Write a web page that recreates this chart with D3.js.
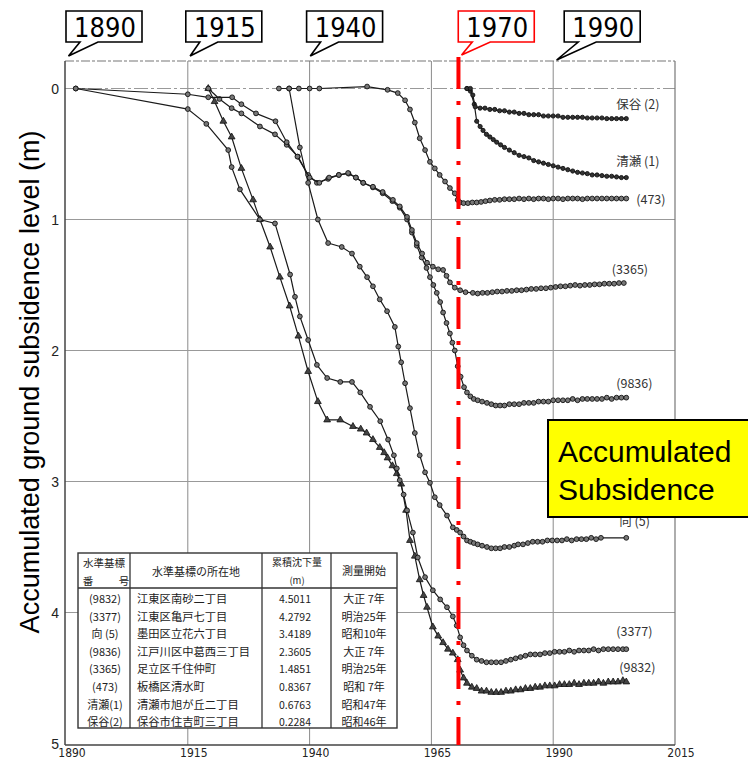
<!DOCTYPE html>
<html><head><meta charset="utf-8">
<script src="https://cdn.jsdelivr.net/npm/d3@7"></script>
<style>body{margin:0;background:#fff}svg{display:block}</style>
</head><body>
<svg id="chart" width="748" height="761"></svg>
<script>
// ---------- data ----------
const xTickYears = [1890, 1915, 1940, 1965, 1990, 2015];
const gridYears = [1915, 1940, 1965, 1990];
const yTickValues = [0, 1, 2, 3, 4, 5];
const gridDepths = [0, 1, 2, 3, 4];
const calloutLabels = ["1890", "1915", "1940", "1970", "1990"];
const calloutYears = [1890, 1915, 1940, 1970, 1990];
const markerYear = 1970;
const yTitle = "Accumulated ground subsidence level (m)";
const boxLines = ["Accumulated", "Subsidence"];

const seriesLabels = ["(9832)", "(3377)", "向 (5)", "(9836)", "(3365)", "(473)", "清瀬 (1)", "保谷 (2)"];

const tableHeader1 = ["水準基標", "水準基標の所在地", "累積沈下量", "測量開始"];
const tableCodes = ["(9832)", "(3377)", "向 (5)", "(9836)", "(3365)", "(473)", "清瀬(1)", "保谷(2)"];
const tableLocations = ["江東区南砂二丁目", "江東区亀戸七丁目", "墨田区立花六丁目", "江戸川区中葛西三丁目", "足立区千住仲町", "板橋区清水町", "清瀬市旭が丘二丁目", "保谷市住吉町三丁目"];
const tableValues = ["4.5011", "4.2792", "3.4189", "2.3605", "1.4851", "0.8367", "0.6763", "0.2284"];
const tableStart = ["大正 7年", "明治25年", "昭和10年", "大正 7年", "明治25年", "昭和 7年", "昭和47年", "昭和46年"];

const s9832 = [[1919.2,0],[1920.5,0.1],[1922.3,0.25],[1924,0.37],[1926,0.61],[1928.4,0.85],[1929.8,1.0],[1931.9,1.21],[1933.9,1.44],[1935.9,1.66],[1937.7,1.89],[1939.7,2.16],[1941.7,2.39],[1943.6,2.53],[1946.3,2.53],[1948.9,2.58],[1950.5,2.6],[1951.7,2.63],[1953,2.68],[1954.4,2.74],[1955.3,2.78],[1956,2.82],[1957,2.88],[1957.9,2.94],[1958.8,3.02],[1959.8,3.22],[1960.6,3.45],[1961.6,3.57],[1962.6,3.75],[1963.4,3.87],[1964.1,3.96],[1965.3,4.11],[1966.4,4.18],[1967.4,4.23],[1968.4,4.28],[1969.4,4.31],[1970.4,4.36],[1970.9,4.44],[1971.6,4.5],[1972.3,4.54],[1973.3,4.57],[1974.3,4.58],[1975.3,4.6],[1976.3,4.6],[1977.3,4.61],[1978.3,4.61],[1979.3,4.61],[1980.3,4.6],[1981.3,4.6],[1982.3,4.59],[1983.3,4.59],[1984.3,4.58],[1985.3,4.58],[1986.3,4.57],[1987.3,4.57],[1988.3,4.56],[1989.3,4.56],[1990.3,4.56],[1991.3,4.55],[1992.3,4.55],[1993.3,4.55],[1994.3,4.54],[1995.3,4.55],[1996.3,4.54],[1997.3,4.54],[1998.3,4.54],[1999.3,4.53],[2000.3,4.54],[2001.3,4.53],[2002.3,4.53],[2003.3,4.53],[2004.3,4.52],[2005,4.53]];
const s3377 = [[1892,0],[1915,0.157],[1918.8,0.27],[1923.3,0.47],[1924,0.6],[1925.7,0.77],[1929.8,1.0],[1932.9,1.03],[1936,1.42],[1937,1.59],[1938,1.74],[1939.7,1.92],[1941.5,2.11],[1943.6,2.21],[1946.3,2.24],[1948.7,2.24],[1950.4,2.32],[1952.4,2.43],[1954.5,2.54],[1956.1,2.68],[1957.3,2.8],[1957.9,2.9],[1958.5,2.99],[1959.3,3.1],[1960,3.22],[1961.2,3.39],[1962.2,3.58],[1963.7,3.73],[1965.3,3.83],[1966.8,3.9],[1968.2,3.96],[1969.4,4.03],[1970.2,4.1],[1970.9,4.19],[1971.6,4.25],[1972.3,4.29],[1973.3,4.33],[1974.3,4.36],[1975.3,4.37],[1976.3,4.38],[1977.3,4.38],[1978.3,4.38],[1979.3,4.38],[1980.3,4.37],[1981.3,4.36],[1982.3,4.35],[1983.3,4.34],[1984.3,4.33],[1985.3,4.32],[1986.3,4.32],[1987.3,4.32],[1988.3,4.31],[1989.3,4.31],[1990.3,4.3],[1991.3,4.3],[1992.3,4.3],[1993.3,4.29],[1994.3,4.3],[1995.3,4.29],[1996.3,4.29],[1997.3,4.29],[1998.3,4.28],[1999.3,4.29],[2000.3,4.28],[2001.3,4.28],[2002.3,4.28],[2003.3,4.28],[2004.3,4.28],[2005,4.28]];
const s5 = [[1935.8,0],[1938,0.45],[1939.7,0.72],[1941.7,1.0],[1943.8,1.18],[1946.6,1.21],[1948.7,1.26],[1950.3,1.36],[1951.8,1.44],[1953,1.51],[1954.4,1.61],[1955.9,1.7],[1957.5,1.82],[1958.2,1.97],[1958.8,2.09],[1959.6,2.25],[1960.6,2.44],[1961.6,2.63],[1962.6,2.8],[1963.7,2.93],[1964.7,3.01],[1965.7,3.12],[1966.7,3.18],[1968.2,3.26],[1969.4,3.35],[1970.2,3.37],[1970.9,3.39],[1971.6,3.42],[1972.3,3.45],[1973,3.46],[1973.7,3.47],[1974.5,3.48],[1975.4,3.49],[1976.4,3.5],[1977.3,3.51],[1978.2,3.51],[1979.1,3.51],[1980,3.5],[1981,3.5],[1982,3.49],[1982.8,3.48],[1983.8,3.48],[1984.8,3.47],[1985.8,3.46],[1986.8,3.46],[1987.8,3.46],[1988.8,3.45],[1989.8,3.45],[1990.8,3.45],[1991.8,3.45],[1992.8,3.44],[1993.8,3.45],[1994.8,3.44],[1995.8,3.44],[1996.8,3.44],[1997.8,3.43],[1998.8,3.44],[1999.8,3.43],[2005,3.43]];
const s9836 = [[1919.2,0],[1921.5,0.08],[1924,0.15],[1926,0.19],[1929.8,0.29],[1932.9,0.35],[1935.3,0.43],[1937.6,0.52],[1939.7,0.66],[1941.5,0.72],[1943.8,0.69],[1946,0.66],[1948,0.65],[1949.5,0.68],[1951,0.72],[1953,0.755],[1955,0.8],[1957,0.86],[1958.5,0.91],[1960,1.0],[1961,1.1],[1962,1.2],[1963,1.29],[1964,1.37],[1964.7,1.44],[1965.4,1.5],[1966.1,1.56],[1966.8,1.63],[1967.4,1.71],[1968.1,1.79],[1968.8,1.87],[1969.3,1.94],[1969.8,2.0],[1970.4,2.12],[1971,2.2],[1971.7,2.28],[1972.3,2.32],[1973,2.35],[1973.7,2.37],[1974.5,2.38],[1975.4,2.39],[1976.4,2.4],[1977.3,2.41],[1978.2,2.42],[1979.1,2.42],[1980,2.42],[1981,2.41],[1982,2.41],[1983,2.41],[1984,2.4],[1985,2.4],[1986,2.4],[1987,2.39],[1988,2.39],[1989,2.39],[1990,2.38],[1991,2.38],[1992,2.38],[1993,2.38],[1994,2.37],[1995,2.38],[1996,2.37],[1997,2.37],[1998,2.37],[1999,2.37],[2000,2.37],[2001,2.36],[2002,2.37],[2003,2.36],[2004,2.36],[2005,2.36]];
const s3365 = [[1892,0],[1915,0.044],[1919.2,0.067],[1924.1,0.067],[1926,0.12],[1929,0.19],[1933,0.25],[1935.3,0.41],[1937.5,0.52],[1940,0.68],[1942,0.72],[1944,0.68],[1946,0.66],[1947.9,0.645],[1949.5,0.68],[1951,0.72],[1953,0.75],[1955,0.79],[1957.1,0.85],[1958.5,0.9],[1960,0.98],[1961,1.08],[1962,1.18],[1963.1,1.26],[1964.1,1.33],[1965.3,1.36],[1966.4,1.38],[1967.4,1.385],[1968.1,1.43],[1968.8,1.48],[1969.8,1.52],[1970.9,1.54],[1972,1.555],[1973.5,1.56],[1974.5,1.565],[1975.5,1.56],[1976.5,1.56],[1977.5,1.555],[1978.5,1.55],[1979.5,1.55],[1980.5,1.545],[1981.5,1.545],[1982.5,1.54],[1983.5,1.54],[1984.5,1.535],[1985.5,1.53],[1986.5,1.53],[1987.5,1.525],[1988.5,1.525],[1989.5,1.52],[1990.5,1.515],[1991.5,1.51],[1992.5,1.51],[1993.5,1.505],[1994.5,1.5],[1995.5,1.505],[1996.5,1.5],[1997.5,1.5],[1998.5,1.495],[1999.5,1.495],[2000.5,1.49],[2001.5,1.49],[2002.5,1.49],[2003.5,1.485],[2004.5,1.485]];
const s473 = [[1933.7,0],[1935.8,0],[1937.8,0],[1940,0],[1942,0],[1951.8,-0.015],[1956,0.01],[1958.1,0.035],[1959.6,0.09],[1960.6,0.16],[1961.6,0.26],[1962.6,0.38],[1963.7,0.47],[1964.7,0.56],[1965.7,0.61],[1966.7,0.66],[1967.8,0.71],[1968.8,0.76],[1969.8,0.8],[1970.4,0.85],[1970.9,0.87],[1971.6,0.875],[1972.5,0.875],[1973.4,0.87],[1974.3,0.87],[1975.2,0.866],[1976.1,0.86],[1977,0.855],[1978,0.85],[1979,0.85],[1980,0.845],[1981,0.845],[1982,0.845],[1983,0.84],[1984,0.845],[1985,0.84],[1986,0.845],[1987,0.84],[1988,0.84],[1989,0.845],[1990,0.84],[1991,0.84],[1992,0.845],[1993,0.84],[1994,0.84],[1995,0.84],[1996,0.845],[1997,0.84],[1998,0.84],[1999,0.84],[2000,0.84],[2001,0.84],[2002,0.84],[2003,0.84],[2004,0.84],[2005,0.84]];
const s1 = [[1972.3,0],[1973,0.02],[1973.8,0.12],[1974.3,0.25],[1975,0.29],[1975.6,0.32],[1976.3,0.35],[1977,0.37],[1977.7,0.39],[1978.4,0.41],[1979.2,0.43],[1980,0.45],[1981,0.47],[1982,0.49],[1983,0.51],[1984,0.52],[1985,0.53],[1986,0.55],[1987,0.56],[1988,0.57],[1989,0.58],[1990,0.59],[1991,0.6],[1992,0.61],[1993,0.62],[1994,0.63],[1995,0.64],[1996,0.645],[1997,0.65],[1998,0.66],[1999,0.66],[2000,0.665],[2001,0.67],[2002,0.67],[2003,0.675],[2004,0.68],[2005,0.68]];
const s2 = [[1972.3,0],[1973,0.0],[1973.5,0.05],[1974,0.14],[1975,0.15],[1976,0.15],[1977,0.16],[1978,0.16],[1979,0.17],[1980,0.17],[1981,0.18],[1982,0.18],[1983,0.19],[1984,0.19],[1985,0.2],[1986,0.2],[1987,0.2],[1988,0.21],[1989,0.21],[1990,0.21],[1991,0.21],[1992,0.22],[1993,0.22],[1994,0.22],[1995,0.22],[1996,0.22],[1997,0.225],[1998,0.225],[1999,0.225],[2000,0.225],[2001,0.23],[2002,0.23],[2003,0.23],[2004,0.23],[2005,0.23]];

const seriesData = [s9832, s3377, s5, s9836, s3365, s473, s1, s2];
const seriesMarker = ["triangle", "circle", "circle", "circle", "circle", "circle", "dot", "dot"];

// ---------- layout / style ----------
const W = 748, H = 761;
const frameTop = 61, frameLeft = 65, frameRight = 675, frameBottom = 745;
const labelOffsets = [[-7,-10],[-10,-13],[-7,-12],[-10,-10],[-12,-9],[10,5.5],[-10,-11.5],[-10,-9.5]];
const calloutDx = [0, -2, -3, 2.5, 11];
const calloutTipDx = [2.5, 2.3, 0.7, 5.8, 3.4];
const calloutTipY = [56, 56, 56, 55, 60];

const svg = d3.select("#chart");
svg.append("rect").attr("width", W).attr("height", H).attr("fill", "#fff");

const x = d3.scaleLinear().domain([1890, 2015]).range([66, 675]);
const y = d3.scaleLinear().domain([0, 5]).range([88.5, 743.5]);

// grid
const g = svg.append("g");
g.selectAll(".vg").data(gridYears).enter().append("line")
  .attr("x1", d => x(d)).attr("x2", d => x(d))
  .attr("y1", frameTop).attr("y2", frameBottom)
  .attr("stroke", "#8a8a8a").attr("stroke-width", 1);
g.selectAll(".hg").data(gridDepths).enter().append("line")
  .attr("x1", frameLeft).attr("x2", frameRight)
  .attr("y1", d => y(d)).attr("y2", d => y(d))
  .attr("stroke", "#999").attr("stroke-width", 1)
  .attr("stroke-dasharray", d => d === 0 ? "14,3,3,3" : null);

// frame
g.append("line").attr("x1", frameLeft).attr("x2", frameRight).attr("y1", frameTop).attr("y2", frameTop)
  .attr("stroke", "#777").attr("stroke-width", 1.2).attr("stroke-dasharray", "9,2,3,2");
g.append("line").attr("x1", frameRight).attr("x2", frameRight).attr("y1", frameTop).attr("y2", frameBottom)
  .attr("stroke", "#777").attr("stroke-width", 1.2);
g.append("line").attr("x1", frameLeft).attr("x2", frameLeft).attr("y1", frameTop).attr("y2", frameBottom)
  .attr("stroke", "#444").attr("stroke-width", 1.5);
g.append("line").attr("x1", frameLeft).attr("x2", frameRight).attr("y1", frameBottom).attr("y2", frameBottom)
  .attr("stroke", "#444").attr("stroke-width", 1.5);

// axis labels
svg.selectAll(".xl").data(xTickYears).enter().append("text")
  .attr("x", d => x(d) + 6).attr("y", 757)
  .attr("text-anchor", "middle")
  .attr("font-family", "'Liberation Sans Narrow','DejaVu Sans Condensed',sans-serif")
  .attr("font-size", 12).attr("fill", "#222").text(d => d);
svg.selectAll(".yl").data(yTickValues).enter().append("text")
  .attr("x", 59).attr("y", d => y(d) + 5)
  .attr("text-anchor", "end")
  .attr("font-family", "'Liberation Sans',Arial,sans-serif")
  .attr("font-size", 14).attr("fill", "#222").text(d => d);

svg.append("text")
  .attr("transform", "translate(39,382) rotate(-90)")
  .attr("text-anchor", "middle")
  .attr("font-family", "'Liberation Sans',Arial,sans-serif")
  .attr("font-size", 27).attr("fill", "#000").text(yTitle);

// series
const line = d3.line().x(d => x(d[0])).y(d => y(d[1]));
const sg = svg.append("g");
seriesData.forEach((data, i) => {
  sg.append("path").datum(data).attr("d", line)
    .attr("fill", "none").attr("stroke", "#1a1a1a").attr("stroke-width", 1.2);
  const m = seriesMarker[i];
  if (m === "triangle") {
    sg.selectAll(null).data(data).enter().append("path")
      .attr("d", d3.symbol(d3.symbolTriangle, 20)())
      .attr("transform", d => `translate(${x(d[0])},${y(d[1])})`)
      .attr("fill", "#444").attr("stroke", "#111").attr("stroke-width", 0.8);
  } else {
    sg.selectAll(null).data(data).enter().append("circle")
      .attr("cx", d => x(d[0])).attr("cy", d => y(d[1]))
      .attr("r", m === "dot" ? 2.1 : 2.4)
      .attr("fill", m === "dot" ? "#333" : "#777").attr("stroke", "#111").attr("stroke-width", 0.9);
  }
  const last = data[data.length - 1];
  sg.append("text")
    .attr("x", x(last[0]) + labelOffsets[i][0])
    .attr("y", y(last[1]) + labelOffsets[i][1])
    .attr("font-family", "'Noto Sans CJK JP',sans-serif")
    .attr("font-size", 12.5).attr("fill", "#333").text(seriesLabels[i]);
});

// table
const tg = svg.append("g");
const tL = 78, tR = 397, tT = 553, tB = 728, tH = 588;
const cols = [tL, 130, 262, 331, tR];
tg.append("rect").attr("x", tL).attr("y", tT).attr("width", tR - tL).attr("height", tB - tT)
  .attr("fill", "#fff").attr("stroke", "#333").attr("stroke-width", 1.4);
tg.append("line").attr("x1", tL).attr("x2", tR).attr("y1", tH).attr("y2", tH).attr("stroke", "#333").attr("stroke-width", 1.4);
cols.slice(1, 4).forEach(cx => tg.append("line").attr("x1", cx).attr("x2", cx).attr("y1", tT).attr("y2", tB).attr("stroke", "#333").attr("stroke-width", 1.3));
const jf = "'Noto Sans CJK JP',sans-serif";
function tt(txt, tx, ty, anchor, size) {
  tg.append("text").attr("x", tx).attr("y", ty).attr("text-anchor", anchor || "middle")
    .attr("font-family", jf).attr("font-size", size || 11).attr("fill", "#222").text(txt);
}
tt(tableHeader1[0], 104, 567, "middle", 10.5);
tt("番", 88, 585, "middle", 10.5);
tt("号", 124, 585, "middle", 10.5);
tt(tableHeader1[1], 196, 576, "middle", 11);
tt(tableHeader1[2], 297, 566, "middle", 10);
tt("(m)", 297, 584, "middle", 9.5);
tt(tableHeader1[3], 364, 575, "middle", 11);
const rowY = d3.range(tableCodes.length).map(i => 603 + i * 17.6);
tableCodes.forEach((c, i) => {
  tt(c, 105, rowY[i], "middle", 11);
  tt(tableLocations[i], 137, rowY[i], "start", 11.3);
  tt(tableValues[i], 295, rowY[i], "middle", 10.5);
  tt(tableStart[i], 364, rowY[i], "middle", 11);
});

// red marker line
const rx = x(markerYear) + 2.7;
svg.append("line").attr("x1", rx).attr("x2", rx).attr("y1", 57).attr("y2", frameBottom)
  .attr("stroke", "#ff0000").attr("stroke-width", 4)
  .attr("stroke-dasharray", "32,12,4,12");

// callouts
const cg = svg.append("g");
calloutLabels.forEach((lab, i) => {
  const bx = x(calloutYears[i]) + calloutDx[i];
  const bw = 76, by = 11, bh = 31;
  const tipX = x(calloutYears[i]) + calloutTipDx[i], tipY = calloutTipY[i];
  const b1 = bx + 14, b2 = bx + 32;
  const p = d3.path();
  p.moveTo(bx, by); p.lineTo(bx + bw, by); p.lineTo(bx + bw, by + bh);
  p.lineTo(b2, by + bh); p.lineTo(tipX, tipY); p.lineTo(b1, by + bh);
  p.lineTo(bx, by + bh); p.closePath();
  const col = lab === "1970" ? "#ff0000" : "#000";
  cg.append("path").attr("d", p.toString()).attr("fill", "#fff").attr("stroke", col).attr("stroke-width", 1.6);
  cg.append("text").attr("x", bx + bw / 2 + 1).attr("y", by + 26)
    .attr("text-anchor", "middle")
    .attr("font-family", "'Liberation Sans Narrow','DejaVu Sans Condensed',sans-serif")
    .attr("font-size", 27).attr("fill", "#000").text(lab);
});

// yellow box
const yb = svg.append("g");
yb.append("rect").attr("x", 548).attr("y", 420).attr("width", 210).attr("height", 97)
  .attr("fill", "#ffff00").attr("stroke", "#000").attr("stroke-width", 2);
boxLines.forEach((t, i) => {
  yb.append("text").attr("x", 558).attr("y", 462 + i * 38)
    .attr("font-family", "'Liberation Sans',Arial,sans-serif")
    .attr("font-size", 30).attr("fill", "#000").text(t);
});
</script>
</body></html>
